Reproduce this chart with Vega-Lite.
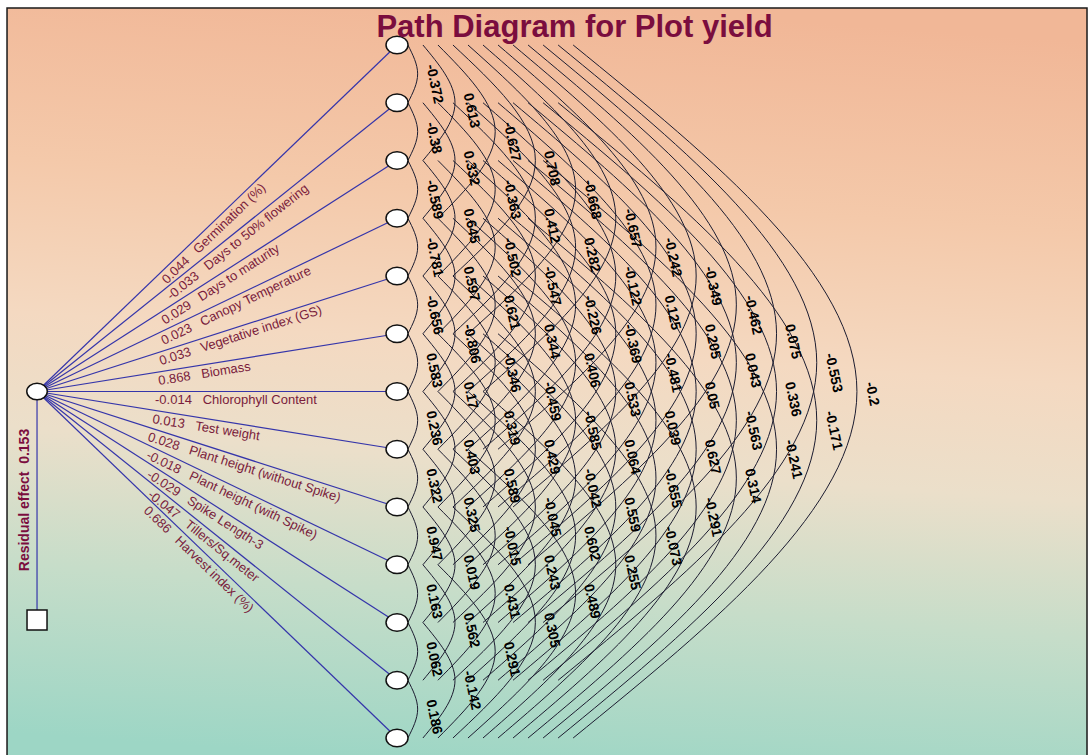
{
"$schema":"https://vega.github.io/schema/vega-lite/v6.json",
"width":1089,"height":755,"padding":0,
"autosize":{"type":"fit","contains":"padding"},
"background":"white",
"config":{"view":{"stroke":null},"font":"Liberation Sans"},
"datasets":{
"paths":[
{"k":1,"sx":-8.655,"sy":7,"ex":0.212,"lx":-5.675,"ly":4.983,"label":"0.044\u00a0\u00a0\u00a0Germination (%)"},
{"k":2,"sx":-8.655,"sy":7,"ex":0.212,"lx":-5.552,"ly":5.25,"label":"-0.033\u00a0\u00a0\u00a0Days to 50% flowering"},
{"k":3,"sx":-8.655,"sy":7,"ex":0.212,"lx":-5.675,"ly":5.656,"label":"0.029\u00a0\u00a0\u00a0Days to maturity"},
{"k":4,"sx":-8.655,"sy":7,"ex":0.212,"lx":-5.675,"ly":5.992,"label":"0.023\u00a0\u00a0\u00a0Canopy Temperature"},
{"k":5,"sx":-8.655,"sy":7,"ex":0.212,"lx":-5.7,"ly":6.333,"label":"0.033\u00a0\u00a0\u00a0Vegetative index (GS)"},
{"k":6,"sx":-8.655,"sy":7,"ex":0.212,"lx":-5.7,"ly":6.667,"label":"0.868\u00a0\u00a0\u00a0Biomass"},
{"k":7,"sx":-8.655,"sy":7,"ex":0.212,"lx":-5.749,"ly":7,"label":"-0.014\u00a0\u00a0\u00a0Chlorophyll Content"},
{"k":8,"sx":-8.655,"sy":7,"ex":0.212,"lx":-5.773,"ly":7.325,"label":"0.013\u00a0\u00a0\u00a0Test weight"},
{"k":9,"sx":-8.655,"sy":7,"ex":0.212,"lx":-5.847,"ly":7.633,"label":"0.028\u00a0\u00a0\u00a0Plant height (without Spike)"},
{"k":10,"sx":-8.655,"sy":7,"ex":0.212,"lx":-5.847,"ly":7.95,"label":"-0.018\u00a0\u00a0\u00a0Plant height (with Spike)"},
{"k":11,"sx":-8.655,"sy":7,"ex":0.212,"lx":-5.798,"ly":8.289,"label":"-0.029\u00a0\u00a0\u00a0Spike Length-3"},
{"k":12,"sx":-8.655,"sy":7,"ex":0.212,"lx":-5.749,"ly":8.639,"label":"-0.047\u00a0\u00a0\u00a0Tillers/Sq.meter"},
{"k":13,"sx":-8.655,"sy":7,"ex":0.212,"lx":-5.823,"ly":8.916,"label":"0.686\u00a0\u00a0\u00a0Harvest index (%)"}
],
"arcs":[
{"p":"1-2","o":0,"x":0.48,"y":1},{"p":"1-2","o":1,"x":0.72,"y":1.5,"r":"-0.372"},{"p":"1-2","o":2,"x":0.48,"y":2},
{"p":"2-3","o":0,"x":0.48,"y":2},{"p":"2-3","o":1,"x":0.72,"y":2.5,"r":"-0.38"},{"p":"2-3","o":2,"x":0.48,"y":3},
{"p":"3-4","o":0,"x":0.48,"y":3},{"p":"3-4","o":1,"x":0.72,"y":3.5,"r":"-0.589"},{"p":"3-4","o":2,"x":0.48,"y":4},
{"p":"4-5","o":0,"x":0.48,"y":4},{"p":"4-5","o":1,"x":0.72,"y":4.5,"r":"-0.781"},{"p":"4-5","o":2,"x":0.48,"y":5},
{"p":"5-6","o":0,"x":0.48,"y":5},{"p":"5-6","o":1,"x":0.72,"y":5.5,"r":"-0.656"},{"p":"5-6","o":2,"x":0.48,"y":6},
{"p":"6-7","o":0,"x":0.48,"y":6},{"p":"6-7","o":1,"x":0.72,"y":6.5,"r":"0.583"},{"p":"6-7","o":2,"x":0.48,"y":7},
{"p":"7-8","o":0,"x":0.48,"y":7},{"p":"7-8","o":1,"x":0.72,"y":7.5,"r":"0.236"},{"p":"7-8","o":2,"x":0.48,"y":8},
{"p":"8-9","o":0,"x":0.48,"y":8},{"p":"8-9","o":1,"x":0.72,"y":8.5,"r":"0.322"},{"p":"8-9","o":2,"x":0.48,"y":9},
{"p":"9-10","o":0,"x":0.48,"y":9},{"p":"9-10","o":1,"x":0.72,"y":9.5,"r":"0.947"},{"p":"9-10","o":2,"x":0.48,"y":10},
{"p":"10-11","o":0,"x":0.48,"y":10},{"p":"10-11","o":1,"x":0.72,"y":10.5,"r":"0.163"},{"p":"10-11","o":2,"x":0.48,"y":11},
{"p":"11-12","o":0,"x":0.48,"y":11},{"p":"11-12","o":1,"x":0.72,"y":11.5,"r":"0.062"},{"p":"11-12","o":2,"x":0.48,"y":12},
{"p":"12-13","o":0,"x":0.48,"y":12},{"p":"12-13","o":1,"x":0.72,"y":12.5,"r":"0.186"},{"p":"12-13","o":2,"x":0.48,"y":13},
{"p":"1-3","o":0,"x":0.85,"y":1},{"p":"1-3","o":1,"x":1.64,"y":2,"r":"0.613"},{"p":"1-3","o":2,"x":0.85,"y":3},
{"p":"2-4","o":0,"x":0.85,"y":2},{"p":"2-4","o":1,"x":1.64,"y":3,"r":"0.332"},{"p":"2-4","o":2,"x":0.85,"y":4},
{"p":"3-5","o":0,"x":0.85,"y":3},{"p":"3-5","o":1,"x":1.64,"y":4,"r":"0.645"},{"p":"3-5","o":2,"x":0.85,"y":5},
{"p":"4-6","o":0,"x":0.85,"y":4},{"p":"4-6","o":1,"x":1.64,"y":5,"r":"0.597"},{"p":"4-6","o":2,"x":0.85,"y":6},
{"p":"5-7","o":0,"x":0.85,"y":5},{"p":"5-7","o":1,"x":1.64,"y":6,"r":"-0.806"},{"p":"5-7","o":2,"x":0.85,"y":7},
{"p":"6-8","o":0,"x":0.85,"y":6},{"p":"6-8","o":1,"x":1.64,"y":7,"r":"0.17"},{"p":"6-8","o":2,"x":0.85,"y":8},
{"p":"7-9","o":0,"x":0.85,"y":7},{"p":"7-9","o":1,"x":1.64,"y":8,"r":"0.403"},{"p":"7-9","o":2,"x":0.85,"y":9},
{"p":"8-10","o":0,"x":0.85,"y":8},{"p":"8-10","o":1,"x":1.64,"y":9,"r":"0.325"},{"p":"8-10","o":2,"x":0.85,"y":10},
{"p":"9-11","o":0,"x":0.85,"y":9},{"p":"9-11","o":1,"x":1.64,"y":10,"r":"0.019"},{"p":"9-11","o":2,"x":0.85,"y":11},
{"p":"10-12","o":0,"x":0.85,"y":10},{"p":"10-12","o":1,"x":1.64,"y":11,"r":"0.562"},{"p":"10-12","o":2,"x":0.85,"y":12},
{"p":"11-13","o":0,"x":0.85,"y":11},{"p":"11-13","o":1,"x":1.64,"y":12,"r":"-0.142"},{"p":"11-13","o":2,"x":0.85,"y":13},
{"p":"1-4","o":0,"x":1.22,"y":1},{"p":"1-4","o":1,"x":2.63,"y":2.5,"r":"-0.627"},{"p":"1-4","o":2,"x":1.22,"y":4},
{"p":"2-5","o":0,"x":1.22,"y":2},{"p":"2-5","o":1,"x":2.63,"y":3.5,"r":"-0.363"},{"p":"2-5","o":2,"x":1.22,"y":5},
{"p":"3-6","o":0,"x":1.22,"y":3},{"p":"3-6","o":1,"x":2.63,"y":4.5,"r":"-0.502"},{"p":"3-6","o":2,"x":1.22,"y":6},
{"p":"4-7","o":0,"x":1.22,"y":4},{"p":"4-7","o":1,"x":2.63,"y":5.5,"r":"0.621"},{"p":"4-7","o":2,"x":1.22,"y":7},
{"p":"5-8","o":0,"x":1.22,"y":5},{"p":"5-8","o":1,"x":2.63,"y":6.5,"r":"-0.346"},{"p":"5-8","o":2,"x":1.22,"y":8},
{"p":"6-9","o":0,"x":1.22,"y":6},{"p":"6-9","o":1,"x":2.63,"y":7.5,"r":"0.319"},{"p":"6-9","o":2,"x":1.22,"y":9},
{"p":"7-10","o":0,"x":1.22,"y":7},{"p":"7-10","o":1,"x":2.63,"y":8.5,"r":"0.589"},{"p":"7-10","o":2,"x":1.22,"y":10},
{"p":"8-11","o":0,"x":1.22,"y":8},{"p":"8-11","o":1,"x":2.63,"y":9.5,"r":"-0.015"},{"p":"8-11","o":2,"x":1.22,"y":11},
{"p":"9-12","o":0,"x":1.22,"y":9},{"p":"9-12","o":1,"x":2.63,"y":10.5,"r":"0.431"},{"p":"9-12","o":2,"x":1.22,"y":12},
{"p":"10-13","o":0,"x":1.22,"y":10},{"p":"10-13","o":1,"x":2.63,"y":11.5,"r":"0.291"},{"p":"10-13","o":2,"x":1.22,"y":13},
{"p":"1-5","o":0,"x":1.59,"y":1},{"p":"1-5","o":1,"x":3.62,"y":3,"r":"0.708"},{"p":"1-5","o":2,"x":1.59,"y":5},
{"p":"2-6","o":0,"x":1.59,"y":2},{"p":"2-6","o":1,"x":3.62,"y":4,"r":"0.412"},{"p":"2-6","o":2,"x":1.59,"y":6},
{"p":"3-7","o":0,"x":1.59,"y":3},{"p":"3-7","o":1,"x":3.62,"y":5,"r":"-0.547"},{"p":"3-7","o":2,"x":1.59,"y":7},
{"p":"4-8","o":0,"x":1.59,"y":4},{"p":"4-8","o":1,"x":3.62,"y":6,"r":"0.344"},{"p":"4-8","o":2,"x":1.59,"y":8},
{"p":"5-9","o":0,"x":1.59,"y":5},{"p":"5-9","o":1,"x":3.62,"y":7,"r":"-0.459"},{"p":"5-9","o":2,"x":1.59,"y":9},
{"p":"6-10","o":0,"x":1.59,"y":6},{"p":"6-10","o":1,"x":3.62,"y":8,"r":"0.429"},{"p":"6-10","o":2,"x":1.59,"y":10},
{"p":"7-11","o":0,"x":1.59,"y":7},{"p":"7-11","o":1,"x":3.62,"y":9,"r":"-0.045"},{"p":"7-11","o":2,"x":1.59,"y":11},
{"p":"8-12","o":0,"x":1.59,"y":8},{"p":"8-12","o":1,"x":3.62,"y":10,"r":"0.243"},{"p":"8-12","o":2,"x":1.59,"y":12},
{"p":"9-13","o":0,"x":1.59,"y":9},{"p":"9-13","o":1,"x":3.62,"y":11,"r":"0.305"},{"p":"9-13","o":2,"x":1.59,"y":13},
{"p":"1-6","o":0,"x":1.96,"y":1},{"p":"1-6","o":1,"x":4.61,"y":3.5,"r":"-0.668"},{"p":"1-6","o":2,"x":1.96,"y":6},
{"p":"2-7","o":0,"x":1.96,"y":2},{"p":"2-7","o":1,"x":4.61,"y":4.5,"r":"0.282"},{"p":"2-7","o":2,"x":1.96,"y":7},
{"p":"3-8","o":0,"x":1.96,"y":3},{"p":"3-8","o":1,"x":4.61,"y":5.5,"r":"-0.226"},{"p":"3-8","o":2,"x":1.96,"y":8},
{"p":"4-9","o":0,"x":1.96,"y":4},{"p":"4-9","o":1,"x":4.61,"y":6.5,"r":"0.406"},{"p":"4-9","o":2,"x":1.96,"y":9},
{"p":"5-10","o":0,"x":1.96,"y":5},{"p":"5-10","o":1,"x":4.61,"y":7.5,"r":"-0.585"},{"p":"5-10","o":2,"x":1.96,"y":10},
{"p":"6-11","o":0,"x":1.96,"y":6},{"p":"6-11","o":1,"x":4.61,"y":8.5,"r":"-0.042"},{"p":"6-11","o":2,"x":1.96,"y":11},
{"p":"7-12","o":0,"x":1.96,"y":7},{"p":"7-12","o":1,"x":4.61,"y":9.5,"r":"0.602"},{"p":"7-12","o":2,"x":1.96,"y":12},
{"p":"8-13","o":0,"x":1.96,"y":8},{"p":"8-13","o":1,"x":4.61,"y":10.5,"r":"0.489"},{"p":"8-13","o":2,"x":1.96,"y":13},
{"p":"1-7","o":0,"x":2.33,"y":1},{"p":"1-7","o":1,"x":5.6,"y":4,"r":"-0.657"},{"p":"1-7","o":2,"x":2.33,"y":7},
{"p":"2-8","o":0,"x":2.33,"y":2},{"p":"2-8","o":1,"x":5.6,"y":5,"r":"-0.122"},{"p":"2-8","o":2,"x":2.33,"y":8},
{"p":"3-9","o":0,"x":2.33,"y":3},{"p":"3-9","o":1,"x":5.6,"y":6,"r":"-0.369"},{"p":"3-9","o":2,"x":2.33,"y":9},
{"p":"4-10","o":0,"x":2.33,"y":4},{"p":"4-10","o":1,"x":5.6,"y":7,"r":"0.533"},{"p":"4-10","o":2,"x":2.33,"y":10},
{"p":"5-11","o":0,"x":2.33,"y":5},{"p":"5-11","o":1,"x":5.6,"y":8,"r":"0.064"},{"p":"5-11","o":2,"x":2.33,"y":11},
{"p":"6-12","o":0,"x":2.33,"y":6},{"p":"6-12","o":1,"x":5.6,"y":9,"r":"0.559"},{"p":"6-12","o":2,"x":2.33,"y":12},
{"p":"7-13","o":0,"x":2.33,"y":7},{"p":"7-13","o":1,"x":5.6,"y":10,"r":"0.255"},{"p":"7-13","o":2,"x":2.33,"y":13},
{"p":"1-8","o":0,"x":2.7,"y":1},{"p":"1-8","o":1,"x":6.59,"y":4.5,"r":"-0.242"},{"p":"1-8","o":2,"x":2.7,"y":8},
{"p":"2-9","o":0,"x":2.7,"y":2},{"p":"2-9","o":1,"x":6.59,"y":5.5,"r":"0.125"},{"p":"2-9","o":2,"x":2.7,"y":9},
{"p":"3-10","o":0,"x":2.7,"y":3},{"p":"3-10","o":1,"x":6.59,"y":6.5,"r":"-0.481"},{"p":"3-10","o":2,"x":2.7,"y":10},
{"p":"4-11","o":0,"x":2.7,"y":4},{"p":"4-11","o":1,"x":6.59,"y":7.5,"r":"0.039"},{"p":"4-11","o":2,"x":2.7,"y":11},
{"p":"5-12","o":0,"x":2.7,"y":5},{"p":"5-12","o":1,"x":6.59,"y":8.5,"r":"-0.655"},{"p":"5-12","o":2,"x":2.7,"y":12},
{"p":"6-13","o":0,"x":2.7,"y":6},{"p":"6-13","o":1,"x":6.59,"y":9.5,"r":"-0.073"},{"p":"6-13","o":2,"x":2.7,"y":13},
{"p":"1-9","o":0,"x":3.07,"y":1},{"p":"1-9","o":1,"x":7.58,"y":5,"r":"-0.349"},{"p":"1-9","o":2,"x":3.07,"y":9},
{"p":"2-10","o":0,"x":3.07,"y":2},{"p":"2-10","o":1,"x":7.58,"y":6,"r":"0.205"},{"p":"2-10","o":2,"x":3.07,"y":10},
{"p":"3-11","o":0,"x":3.07,"y":3},{"p":"3-11","o":1,"x":7.58,"y":7,"r":"0.05"},{"p":"3-11","o":2,"x":3.07,"y":11},
{"p":"4-12","o":0,"x":3.07,"y":4},{"p":"4-12","o":1,"x":7.58,"y":8,"r":"0.627"},{"p":"4-12","o":2,"x":3.07,"y":12},
{"p":"5-13","o":0,"x":3.07,"y":5},{"p":"5-13","o":1,"x":7.58,"y":9,"r":"-0.291"},{"p":"5-13","o":2,"x":3.07,"y":13},
{"p":"1-10","o":0,"x":3.44,"y":1},{"p":"1-10","o":1,"x":8.57,"y":5.5,"r":"-0.462"},{"p":"1-10","o":2,"x":3.44,"y":10},
{"p":"2-11","o":0,"x":3.44,"y":2},{"p":"2-11","o":1,"x":8.57,"y":6.5,"r":"0.043"},{"p":"2-11","o":2,"x":3.44,"y":11},
{"p":"3-12","o":0,"x":3.44,"y":3},{"p":"3-12","o":1,"x":8.57,"y":7.5,"r":"-0.563"},{"p":"3-12","o":2,"x":3.44,"y":12},
{"p":"4-13","o":0,"x":3.44,"y":4},{"p":"4-13","o":1,"x":8.57,"y":8.5,"r":"0.314"},{"p":"4-13","o":2,"x":3.44,"y":13},
{"p":"1-11","o":0,"x":3.81,"y":1},{"p":"1-11","o":1,"x":9.56,"y":6,"r":"0.075"},{"p":"1-11","o":2,"x":3.81,"y":11},
{"p":"2-12","o":0,"x":3.81,"y":2},{"p":"2-12","o":1,"x":9.56,"y":7,"r":"0.336"},{"p":"2-12","o":2,"x":3.81,"y":12},
{"p":"3-13","o":0,"x":3.81,"y":3},{"p":"3-13","o":1,"x":9.56,"y":8,"r":"-0.241"},{"p":"3-13","o":2,"x":3.81,"y":13},
{"p":"1-12","o":0,"x":4.18,"y":1},{"p":"1-12","o":1,"x":10.55,"y":6.5,"r":"-0.553"},{"p":"1-12","o":2,"x":4.18,"y":12},
{"p":"2-13","o":0,"x":4.18,"y":2},{"p":"2-13","o":1,"x":10.55,"y":7.5,"r":"-0.171"},{"p":"2-13","o":2,"x":4.18,"y":13},
{"p":"1-13","o":0,"x":4.55,"y":1},{"p":"1-13","o":1,"x":11.54,"y":7,"r":"-0.2"},{"p":"1-13","o":2,"x":4.55,"y":13}
]
},
"layer":[
{"data":{"values":[{"x0":-9.394,"x1":17.207,"y0":0.3593,"y1":13.5}]},
 "mark":{"type":"rect","clip":true,"stroke":"#1a1a1a","strokeWidth":1.5,
   "fill":{"gradient":"linear","x1":0.55,"y1":0,"x2":0.45,"y2":1,
     "stops":[{"offset":0,"color":"#f1b797"},{"offset":0.25,"color":"#f4c9aa"},{"offset":0.45,"color":"#f4d9c1"},{"offset":0.6,"color":"#ebdfca"},{"offset":0.78,"color":"#c6ddc9"},{"offset":1,"color":"#9dd6c5"}]}},
 "encoding":{
   "x":{"field":"x0","type":"quantitative","scale":{"domain":[-9.567,17.256],"zero":false,"nice":false},"axis":null},
   "x2":{"field":"x1"},
   "y":{"field":"y0","type":"quantitative","scale":{"domain":[0.2208,13.2944],"zero":false,"nice":false,"reverse":true},"axis":null},
   "y2":{"field":"y1"}}},
{"data":{"name":"paths"},
 "mark":{"type":"rule","color":"#3535aa","strokeWidth":1.2},
 "encoding":{
   "x":{"field":"sx","type":"quantitative","scale":{"domain":[-9.567,17.256],"zero":false,"nice":false},"axis":null},
   "x2":{"field":"ex"},
   "y":{"field":"sy","type":"quantitative","scale":{"domain":[0.2208,13.2944],"zero":false,"nice":false,"reverse":true},"axis":null},
   "y2":{"field":"k"}}},
{"data":{"values":[{"x":-8.655,"y0":7,"y1":10.957}]},
 "mark":{"type":"rule","color":"#3535aa","strokeWidth":1.2},
 "encoding":{
   "x":{"field":"x","type":"quantitative","scale":{"domain":[-9.567,17.256],"zero":false,"nice":false},"axis":null},
   "y":{"field":"y0","type":"quantitative","scale":{"domain":[0.2208,13.2944],"zero":false,"nice":false,"reverse":true},"axis":null},
   "y2":{"field":"y1"}}},
{"data":{"name":"arcs"},
 "mark":{"type":"line","interpolate":"natural","color":"#1c1c30","strokeWidth":1},
 "encoding":{
   "x":{"field":"x","type":"quantitative","scale":{"domain":[-9.567,17.256],"zero":false,"nice":false},"axis":null},
   "y":{"field":"y","type":"quantitative","scale":{"domain":[0.2208,13.2944],"zero":false,"nice":false,"reverse":true},"axis":null},
   "detail":{"field":"p","type":"nominal"},
   "order":{"field":"o","type":"quantitative"}}},
{"data":{"name":"arcs"},
 "transform":[{"filter":{"field":"o","equal":1}}],
 "mark":{"type":"text","angle":78,"align":"left","baseline":"middle","dx":-6.5,"dy":-14.1,"fontSize":14,"fontWeight":"bold","color":"#000000"},
 "encoding":{
   "x":{"field":"x","type":"quantitative","scale":{"domain":[-9.567,17.256],"zero":false,"nice":false},"axis":null},
   "y":{"field":"y","type":"quantitative","scale":{"domain":[0.2208,13.2944],"zero":false,"nice":false,"reverse":true},"axis":null},
   "text":{"field":"r","type":"nominal"}}},
{"data":{"name":"paths"},
 "mark":{"type":"text","align":"left","baseline":"top","dy":3,"fontSize":13,"color":"#7a1c3c"},
 "encoding":{
   "x":{"field":"lx","type":"quantitative","scale":{"domain":[-9.567,17.256],"zero":false,"nice":false},"axis":null},
   "y":{"field":"ly","type":"quantitative","scale":{"domain":[0.2208,13.2944],"zero":false,"nice":false,"reverse":true},"axis":null},
   "angle":{"field":"k","type":"quantitative","scale":{"domain":[1,2,3,4,5,6,7,8,9,10,11,12,13],"range":[-43.9,-38.7,-32.7,-25.7,-17.8,-9.1,0,9.1,17.8,25.7,32.7,38.7,43.9]},"legend":null},
   "text":{"field":"label","type":"nominal"}}},
{"data":{"name":"paths"},
 "mark":{"type":"point","shape":"M-1,0A1,0.8,0,1,1,1,0A1,0.8,0,1,1,-1,0Z","filled":true,"fill":"#ffffff","stroke":"#111111","strokeWidth":1.5,"size":484,"opacity":1},
 "encoding":{
   "x":{"field":"ex","type":"quantitative","scale":{"domain":[-9.567,17.256],"zero":false,"nice":false},"axis":null},
   "y":{"field":"k","type":"quantitative","scale":{"domain":[0.2208,13.2944],"zero":false,"nice":false,"reverse":true},"axis":null}}},
{"data":{"values":[{"x":-8.655,"y":7}]},
 "mark":{"type":"point","shape":"M-1,0A1,0.8,0,1,1,1,0A1,0.8,0,1,1,-1,0Z","filled":true,"fill":"#ffffff","stroke":"#111111","strokeWidth":1.5,"size":420,"opacity":1},
 "encoding":{
   "x":{"field":"x","type":"quantitative","scale":{"domain":[-9.567,17.256],"zero":false,"nice":false},"axis":null},
   "y":{"field":"y","type":"quantitative","scale":{"domain":[0.2208,13.2944],"zero":false,"nice":false,"reverse":true},"axis":null}}},
{"data":{"values":[{"x":-8.655,"y":10.957}]},
 "mark":{"type":"point","shape":"square","filled":true,"fill":"#ffffff","stroke":"#111111","strokeWidth":1.5,"size":400,"opacity":1},
 "encoding":{
   "x":{"field":"x","type":"quantitative","scale":{"domain":[-9.567,17.256],"zero":false,"nice":false},"axis":null},
   "y":{"field":"y","type":"quantitative","scale":{"domain":[0.2208,13.2944],"zero":false,"nice":false,"reverse":true},"axis":null}}},
{"data":{"values":[{"x":-8.951,"y":8.879,"t":"Residual effect\u00a0\u00a00.153"}]},
 "mark":{"type":"text","angle":-90,"align":"center","baseline":"middle","fontSize":14,"fontWeight":"bold","color":"#7b0d3e"},
 "encoding":{
   "x":{"field":"x","type":"quantitative","scale":{"domain":[-9.567,17.256],"zero":false,"nice":false},"axis":null},
   "y":{"field":"y","type":"quantitative","scale":{"domain":[0.2208,13.2944],"zero":false,"nice":false,"reverse":true},"axis":null},
   "text":{"field":"t","type":"nominal"}}},
{"data":{"values":[{"x":4.584,"y":0.8615,"t":"Path Diagram for Plot yield"}]},
 "mark":{"type":"text","align":"center","baseline":"alphabetic","fontSize":31,"fontWeight":"bold","color":"#7a0d3e"},
 "encoding":{
   "x":{"field":"x","type":"quantitative","scale":{"domain":[-9.567,17.256],"zero":false,"nice":false},"axis":null},
   "y":{"field":"y","type":"quantitative","scale":{"domain":[0.2208,13.2944],"zero":false,"nice":false,"reverse":true},"axis":null},
   "text":{"field":"t","type":"nominal"}}}
]
}
